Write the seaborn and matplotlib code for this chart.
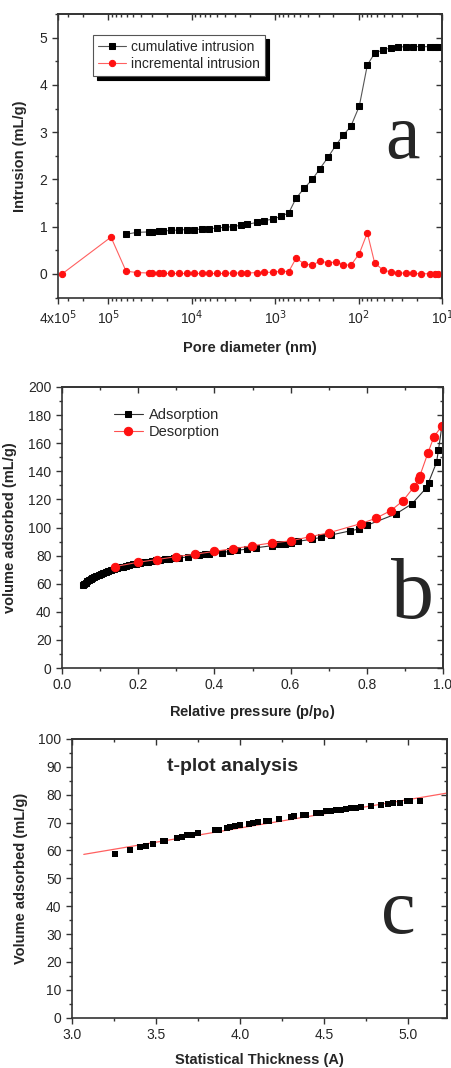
import numpy as np
import pandas as pd
import matplotlib
matplotlib.use('Agg')
import matplotlib.pyplot as plt
from matplotlib.ticker import MultipleLocator, LogLocator, NullFormatter, FormatStrFormatter
import seaborn as sns

# ---- panel a: mercury intrusion ----
cum_diam = [61200, 45600, 32400, 30100, 24400, 21900, 17900, 14200, 11500, 9290,
            7450, 6140, 5010, 3990, 3230, 2590, 2150, 1660, 1360, 1050,
            857, 687, 562, 451, 358, 290, 230, 186, 152, 124,
            98, 78.5, 64.1, 51.4, 41.2, 33.3, 27.0, 22.0, 18.0, 13.9, 12.1, 11.1]
cum_vol = [0.84, 0.88, 0.89, 0.89, 0.91, 0.91, 0.92, 0.93, 0.94, 0.94,
           0.95, 0.96, 0.97, 0.99, 1.00, 1.03, 1.05, 1.09, 1.13, 1.16,
           1.22, 1.29, 1.60, 1.81, 2.00, 2.23, 2.48, 2.73, 2.94, 3.12,
           3.55, 4.42, 4.67, 4.74, 4.78, 4.80, 4.81, 4.81, 4.81, 4.81, 4.81, 4.81]
inc_diam = [358000, 92700] + cum_diam
inc_vol = [0.0, 0.78, 0.06, 0.03, 0.02, 0.01, 0.01, 0.01, 0.01, 0.01, 0.01, 0.01,
           0.01, 0.01, 0.01, 0.01, 0.02, 0.02, 0.02, 0.03, 0.035, 0.035,
           0.06, 0.05, 0.33, 0.22, 0.18, 0.28, 0.23, 0.26, 0.20, 0.18,
           0.43, 0.87, 0.23, 0.09, 0.04, 0.03, 0.01, 0.01, 0.005, 0.005, 0.005, 0.005]
a_ticks = [4e5, 1e5, 1e4, 1e3, 1e2, 1e1]
a_ticklabels = ['4x10$^5$', '10$^5$', '10$^4$', '10$^3$', '10$^2$', '10$^1$']

# ---- panel b: N2 isotherm ----
ads_p = [0.054, 0.058, 0.062, 0.066, 0.070, 0.075, 0.080, 0.085, 0.090, 0.096,
         0.102, 0.108, 0.115, 0.122, 0.129, 0.136, 0.144, 0.152, 0.160, 0.168,
         0.177, 0.186, 0.195, 0.205, 0.215, 0.225, 0.236, 0.247, 0.258, 0.270,
         0.282, 0.294, 0.306, 0.330, 0.360, 0.375, 0.385, 0.420, 0.440, 0.460,
         0.485, 0.510, 0.550, 0.570, 0.585, 0.600, 0.620, 0.655, 0.680, 0.705,
         0.755, 0.780, 0.800, 0.876, 0.918, 0.955, 0.962, 0.983, 0.988, 0.997]
ads_v = [58.9, 59.9, 60.8, 61.6, 62.4, 63.3, 64.1, 64.9, 65.6, 66.4,
         67.1, 67.8, 68.5, 69.2, 69.8, 70.4, 71.0, 71.6, 72.1, 72.6,
         73.2, 73.7, 74.2, 74.7, 75.2, 75.7, 76.2, 76.6, 77.0, 77.5,
         77.9, 78.2, 78.5, 78.9, 80.2, 80.8, 81.2, 82.2, 83.0, 83.8,
         84.6, 85.6, 87.0, 88.0, 88.5, 89.3, 90.2, 91.6, 93.0, 94.6,
         97.5, 99.0, 101.5, 109.6, 116.7, 127.8, 132.0, 146.3, 155.0, 172.0]
des_p = [0.997, 0.976, 0.960, 0.939, 0.937, 0.924, 0.895, 0.863, 0.823, 0.785,
         0.700, 0.650, 0.600, 0.550, 0.500, 0.450, 0.400, 0.350, 0.300, 0.250,
         0.200, 0.140]
des_v = [172.3, 164.5, 152.7, 136.6, 134.2, 129.0, 119.0, 112.0, 106.5, 102.8,
         96.2, 93.4, 90.5, 89.0, 87.0, 85.0, 83.0, 81.0, 79.3, 77.2,
         75.3, 72.2]

# ---- panel c: t-plot ----
t_thick = [3.253, 3.343, 3.403, 3.443, 3.483, 3.539, 3.553, 3.623, 3.653, 3.683,
           3.713, 3.752, 3.852, 3.872, 3.922, 3.942, 3.972, 4.002, 4.052, 4.076,
           4.106, 4.152, 4.172, 4.232, 4.301, 4.321, 4.371, 4.391, 4.451, 4.481,
           4.511, 4.541, 4.571, 4.601, 4.631, 4.661, 4.691, 4.721, 4.780, 4.840,
           4.880, 4.910, 4.950, 4.990, 5.010, 5.070]
t_vol = [58.8, 60.1, 61.2, 61.6, 62.2, 63.4, 63.5, 64.5, 65.0, 65.4,
         65.7, 66.2, 67.2, 67.5, 68.0, 68.4, 68.7, 69.0, 69.6, 69.8,
         70.1, 70.5, 70.7, 71.4, 72.0, 72.2, 72.6, 72.8, 73.4, 73.6,
         74.0, 74.2, 74.5, 74.7, 74.9, 75.2, 75.4, 75.7, 76.1, 76.4,
         76.8, 77.0, 77.2, 77.6, 77.6, 77.9]
fit_t = [3.07, 5.24]
fit_v = [58.6, 80.7]

sns.set_theme(style='ticks')
plt.rcParams['font.family'] = ['Liberation Sans', 'DejaVu Sans']
plt.rcParams['axes.linewidth'] = 1.2
plt.rcParams['axes.edgecolor'] = '#333333'
plt.rcParams['xtick.direction'] = 'out'
plt.rcParams['ytick.direction'] = 'out'

fig = plt.figure(figsize=(4.52, 10.68), dpi=100)
W, H = 452, 1068


def make_ax(l, r, t, b):
    return fig.add_axes([l / W, 1 - b / H, (r - l) / W, (b - t) / H])


def mirror_ticks(ax):
    # Origin style: outer ticks left/bottom, inner ticks top/right
    ax.tick_params(which='major', length=4, width=1, labelsize=10, color='#333333')
    ax.tick_params(which='minor', length=2.5, width=1, color='#333333')
    top = ax.secondary_xaxis('top')
    right = ax.secondary_yaxis('right')
    for sec in (top, right):
        sec.tick_params(which='major', direction='in', length=4, width=1, color='#333333')
        sec.tick_params(which='minor', direction='in', length=2.5, width=1, color='#333333')
    top.set_xticklabels([])
    right.set_yticklabels([])
    return top, right


lab_font = dict(fontsize=10.5, fontweight='bold')
serif = ['Liberation Serif', 'DejaVu Serif']

# ===== a =====
ax1 = make_ax(58, 442, 14, 297.6)
sns.lineplot(x=cum_diam, y=cum_vol, ax=ax1, color='#555555', lw=0.8, marker='s',
             markersize=4, markerfacecolor='black', markeredgecolor='black',
             sort=False, estimator=None, label='cumulative intrusion')
sns.lineplot(x=inc_diam, y=inc_vol, ax=ax1, color='#ff6060', lw=0.8, marker='o',
             markersize=4.5, markerfacecolor='#ff1010', markeredgecolor='#ff1010',
             sort=False, estimator=None, label='incremental intrusion')
ax1.set_xscale('log')
ax1.set_xlim(4e5, 10)
ax1.set_ylim(-0.5, 5.5)
ax1.set_xticks(a_ticks)
ax1.set_xticklabels(a_ticklabels)
ax1.xaxis.set_minor_locator(LogLocator(base=10, subs=np.arange(2, 10)))
ax1.xaxis.set_minor_formatter(NullFormatter())
ax1.yaxis.set_major_locator(MultipleLocator(1))
ax1.yaxis.set_minor_locator(MultipleLocator(0.5))
t1, r1 = mirror_ticks(ax1)
t1.set_xticks(a_ticks)
t1.set_xticklabels([])
t1.xaxis.set_minor_locator(LogLocator(base=10, subs=np.arange(2, 10)))
t1.xaxis.set_minor_formatter(NullFormatter())
r1.yaxis.set_major_locator(MultipleLocator(1))
r1.yaxis.set_minor_locator(MultipleLocator(0.5))
ax1.set_xlabel('Pore diameter (nm)', **lab_font)
ax1.set_ylabel('Intrusion (mL/g)', **lab_font)
ax1.xaxis.set_label_coords(0.5, -0.153)
ax1.yaxis.set_label_coords(-0.081, 0.5)
leg1 = ax1.legend(loc='upper left', bbox_to_anchor=(0.091, 0.926), borderaxespad=0,
                  fontsize=10, frameon=True, fancybox=False, edgecolor='#555555',
                  framealpha=1, handlelength=2.0, handletextpad=0.4, borderpad=0.35,
                  labelspacing=0.25,
                  shadow={'ox': 3, 'oy': -3, 'color': 'black', 'alpha': 1})
leg1.get_frame().set_linewidth(0.8)
ax1.text(0.896, 0.492, 'a', transform=ax1.transAxes, ha='center', va='baseline',
         family=serif, fontsize=56)

# ===== b =====
ax2 = make_ax(62, 443, 387, 668)
sns.lineplot(x=ads_p, y=ads_v, ax=ax2, color='#333333', lw=0.8, marker='s',
             markersize=4.5, markerfacecolor='black', markeredgecolor='black',
             sort=False, estimator=None, label='Adsorption')
sns.lineplot(x=des_p, y=des_v, ax=ax2, color='#ff5050', lw=0.8, marker='o',
             markersize=6, markerfacecolor='#ff1010', markeredgecolor='#ff1010',
             sort=False, estimator=None, label='Desorption')
ax2.set_xlim(0, 1.0)
ax2.set_ylim(0, 200)
ax2.xaxis.set_major_locator(MultipleLocator(0.2))
ax2.xaxis.set_minor_locator(MultipleLocator(0.1))
ax2.yaxis.set_major_locator(MultipleLocator(20))
ax2.yaxis.set_minor_locator(MultipleLocator(10))
ax2.xaxis.set_major_formatter(FormatStrFormatter('%.1f'))
t2, r2 = mirror_ticks(ax2)
t2.xaxis.set_major_locator(MultipleLocator(0.2))
t2.xaxis.set_minor_locator(MultipleLocator(0.1))
r2.yaxis.set_major_locator(MultipleLocator(20))
r2.yaxis.set_minor_locator(MultipleLocator(10))
ax2.set_xlabel('Relative pressure (p/p$_\\mathbf{0}$)', **lab_font)
ax2.set_ylabel('volume adsorbed (mL/g)', **lab_font)
ax2.xaxis.set_label_coords(0.5, -0.125)
ax2.yaxis.set_label_coords(-0.118, 0.5)
ax2.legend(loc='upper left', bbox_to_anchor=(0.12, 0.945), borderaxespad=0,
           fontsize=10.5, frameon=False, handlelength=2.0, handletextpad=0.4,
           labelspacing=0.2)
ax2.text(0.921, 0.178, 'b', transform=ax2.transAxes, ha='center', va='baseline',
         family=serif, fontsize=62)

# ===== c =====
ax3 = make_ax(72, 447, 739, 1017.7)
sns.lineplot(x=fit_t, y=fit_v, ax=ax3, color='#ff6060', lw=0.9, estimator=None)
sns.scatterplot(x=t_thick, y=t_vol, ax=ax3, color='black', marker='s', s=20,
                edgecolor='black', linewidth=0, zorder=3)
ax3.set_xlim(3.0, 5.23)
ax3.set_ylim(0, 100)
ax3.xaxis.set_major_locator(MultipleLocator(0.5))
ax3.xaxis.set_minor_locator(MultipleLocator(0.25))
ax3.yaxis.set_major_locator(MultipleLocator(10))
ax3.yaxis.set_minor_locator(MultipleLocator(5))
ax3.xaxis.set_major_formatter(FormatStrFormatter('%.1f'))
t3, r3 = mirror_ticks(ax3)
t3.xaxis.set_major_locator(MultipleLocator(0.5))
t3.xaxis.set_minor_locator(MultipleLocator(0.25))
r3.yaxis.set_major_locator(MultipleLocator(10))
r3.yaxis.set_minor_locator(MultipleLocator(5))
ax3.set_xlabel('Statistical Thickness (A)', **lab_font)
ax3.set_ylabel('Volume adsorbed (mL/g)', **lab_font)
ax3.xaxis.set_label_coords(0.5, -0.127)
ax3.yaxis.set_label_coords(-0.117, 0.5)
ax3.text(0.427, 0.90, 't-plot analysis', transform=ax3.transAxes, ha='center',
         va='center', fontsize=14, fontweight='bold')
ax3.text(0.869, 0.305, 'c', transform=ax3.transAxes, ha='center', va='baseline',
         family=serif, fontsize=56)

fig.savefig('out.png', dpi=100)
